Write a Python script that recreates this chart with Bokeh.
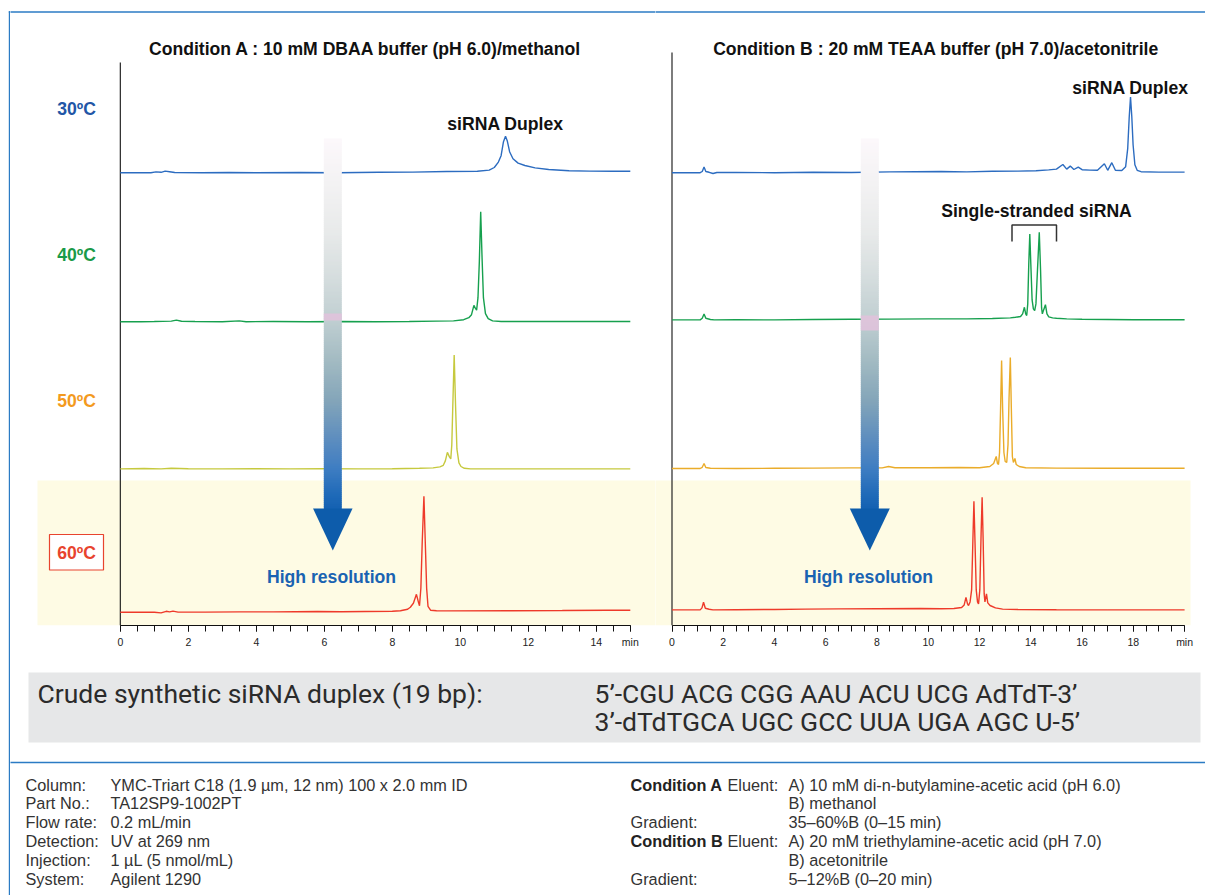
import numpy as np
from bokeh.plotting import figure
from bokeh.models import Range1d, LinearAxis, FixedTicker
from bokeh.layouts import row, column
from bokeh.core.properties import value
from bokeh.embed import file_html
from bokeh.resources import INLINE

# ---------------------------------------------------------------------------
# Chromatograms: retention time (min) and absorbance above baseline (mAU)
# ---------------------------------------------------------------------------
# Condition A (DBAA / methanol)
A30_T = [0.0, 0.9, 1.05, 1.2, 1.32, 1.45, 1.6, 2.4, 3.2, 4.0, 5.3, 6.4, 7.6, 8.6, 9.6, 10.5,
         10.85, 11.0, 11.12, 11.2, 11.27, 11.33, 11.38, 11.45, 11.55, 11.7,
         11.9, 12.2, 12.6, 13.2, 13.8, 14.5, 15.0]
A30_Y = [0.0, 0.0, 0.4, 0.2, 0.8, 0.5, 0.1, 0.0, 0.1, 0.0, 0.1, 0.0, 0.2, 0.3, 0.6, 0.7,
         1.3, 2.6, 5.3, 8.5, 15.5, 18.2, 16.0, 10.5, 7.0, 4.8,
         3.6, 2.4, 1.6, 1.0, 0.8, 0.7, 0.7]

A40_T = [0.0, 0.6, 1.0, 1.5, 1.65, 1.8, 2.2, 3.0, 3.5, 3.7,
         4.5, 5.5, 6.5, 7.5, 8.5, 9.3, 9.8, 10.1, 10.25, 10.33,
         10.40, 10.45, 10.48, 10.52, 10.56, 10.60, 10.64, 10.68, 10.74, 10.82,
         10.95, 11.2, 12.5, 14.0, 15.0]
A40_Y = [0.0, 0.0, 0.1, 0.3, 0.8, 0.2, 0.1, 0.0, 0.4, 0.0,
         0.1, 0.0, 0.1, 0.0, 0.1, 0.3, 0.4, 1.0, 2.0, 3.5,
         8.2, 6.5, 5.8, 12.0, 30.0, 55.0, 32.0, 12.0, 4.0, 1.5,
         0.4, 0.1, 0.1, 0.1, 0.1]

A50_T = [0.0, 0.7, 1.2, 1.5, 2.0, 3.0, 4.0, 5.0, 6.0, 7.0,
         8.0, 8.8, 9.2, 9.4, 9.5, 9.56, 9.62, 9.68, 9.72, 9.75,
         9.78, 9.82, 9.86, 9.90, 9.96, 10.02, 10.12, 10.3, 11.5, 13.0, 15.0]
A50_Y = [0.0, 0.2, 0.0, 0.3, 0.1, 0.0, 0.1, 0.0, 0.1, 0.0,
         0.1, 0.3, 0.5, 1.0, 1.8, 4.0, 8.3, 6.0, 5.0, 12.0,
         32.0, 57.0, 32.0, 10.0, 3.0, 1.2, 0.3, 0.0, 0.0, 0.0, 0.0]

A60_T = [0.0, 1.0, 1.2, 1.35, 1.45, 1.55, 1.7, 2.5, 3.5, 4.5,
         5.8, 6.5, 7.2, 8.0, 8.24, 8.45, 8.53, 8.62, 8.71, 8.77,
         8.80, 8.84, 8.88, 8.93, 8.97, 9.01, 9.05, 9.13, 9.3, 9.6,
         11.5, 13.0, 14.3, 15.0]
A60_Y = [0.0, 0.0, -0.3, 0.5, 0.2, 0.6, 0.1, 0.1, 0.2, 0.2,
         0.4, 0.3, 0.4, 0.5, 0.8, 1.5, 2.5, 4.5, 9.0, 5.0,
         3.3, 12.0, 35.0, 58.0, 35.0, 12.0, 3.0, 1.0, 0.8, 0.7,
         0.8, 0.9, 1.0, 1.0]

# Condition B (TEAA / acetonitrile)
B30_T = [0.0, 1.1, 1.18, 1.25, 1.32, 1.45, 1.6, 1.75, 2.5, 4.0,
         5.5, 7.0, 8.5, 9.5, 10.5, 11.5, 12.5, 13.5, 14.2, 14.7,
         15.0, 15.25, 15.4, 15.54, 15.68, 15.85, 16.0, 16.3, 16.6, 16.87,
         17.0, 17.16, 17.3, 17.55, 17.70, 17.78, 17.84, 17.89, 17.94, 17.99,
         18.06, 18.15, 18.3, 19.0, 20.0]
B30_Y = [0.0, 0.0, 0.6, 2.8, 0.6, 0.2, -0.4, 0.1, 0.1, 0.0,
         0.2, 0.1, 0.4, 0.5, 0.6, 0.4, 0.7, 0.8, 1.0, 1.4,
         1.8, 4.1, 1.8, 3.3, 1.6, 2.8, 1.5, 1.3, 1.2, 4.5,
         1.2, 5.0, 1.2, 1.1, 3.0, 12.0, 28.0, 37.8, 28.0, 14.0,
         4.0, 1.2, 0.5, 0.3, 0.3]

B40_T = [0.0, 1.1, 1.18, 1.25, 1.32, 1.5, 1.65, 2.5, 4.0, 5.5,
         7.0, 8.5, 10.0, 11.5, 12.5, 13.2, 13.4, 13.6, 13.68, 13.75,
         13.80, 13.84, 13.88, 13.92, 13.96, 14.00, 14.05, 14.10, 14.15, 14.20,
         14.26, 14.33, 14.38, 14.42, 14.45, 14.50, 14.57, 14.63, 14.70, 14.85,
         15.0, 15.4, 16.0, 18.0, 20.0]
B40_Y = [0.0, 0.0, 0.8, 3.0, 0.8, 0.2, 0.0, 0.1, 0.0, 0.2,
         0.3, 0.4, 0.5, 0.5, 0.7, 1.0, 1.3, 1.7, 3.0, 6.3,
         3.0, 2.2, 8.0, 28.0, 43.0, 28.0, 10.0, 5.5, 4.6, 8.0,
         25.0, 43.8, 25.0, 6.0, 3.0, 5.0, 7.6, 3.0, 1.5, 1.0,
         0.8, 0.5, 0.3, 0.1, 0.1]

B50_T = [0.0, 1.1, 1.18, 1.25, 1.32, 1.5, 2.5, 4.0, 5.5, 7.0,
         8.2, 8.45, 8.7, 10.0, 11.2, 12.0, 12.4, 12.55, 12.65, 12.70,
         12.74, 12.78, 12.82, 12.86, 12.90, 12.95, 13.00, 13.06, 13.11, 13.15,
         13.20, 13.24, 13.28, 13.32, 13.38, 13.43, 13.55, 13.8, 15.0, 17.0, 20.0]
B50_Y = [0.0, 0.0, 0.6, 2.5, 0.5, 0.1, 0.0, 0.1, 0.2, 0.3,
         0.3, 1.0, 0.4, 0.4, 0.5, 0.4, 1.0, 2.5, 6.0, 2.5,
         2.0, 8.0, 30.0, 54.0, 30.0, 8.0, 3.5, 3.0, 12.0, 35.0,
         55.5, 30.0, 6.0, 3.0, 5.0, 2.0, 1.0, 0.4, 0.2, 0.1, 0.1]

B60_T = [0.0, 1.1, 1.17, 1.23, 1.3, 1.45, 1.6, 2.5, 4.0, 5.2,
         6.5, 8.0, 9.7, 10.5, 11.0, 11.3, 11.4, 11.47, 11.53, 11.57,
         11.63, 11.69, 11.74, 11.78, 11.82, 11.87, 11.92, 11.96, 12.01, 12.06,
         12.10, 12.14, 12.18, 12.21, 12.27, 12.32, 12.41, 12.62, 12.9, 13.5,
         15.0, 17.0, 20.0]
B60_Y = [0.0, 0.0, 1.0, 3.8, 0.8, 0.3, 0.0, 0.1, 0.2, 0.4,
         0.5, 0.6, 0.7, 0.6, 0.7, 1.2, 2.5, 6.3, 3.0, 2.2,
         4.0, 10.0, 35.0, 54.3, 35.0, 10.0, 4.0, 3.0, 10.0, 38.0,
         56.3, 35.0, 8.0, 4.0, 8.0, 3.5, 2.2, 1.0, 0.4, 0.2,
         0.1, 0.0, 0.0]

TEMPS = ["30ºC", "40ºC", "50ºC", "60ºC"]
A_TICKS = [0, 2, 4, 6, 8, 10, 12, 14]
B_TICKS = [0, 2, 4, 6, 8, 10, 12, 14, 16, 18]
A_END = 15
B_END = 20

TITLE_A = "Condition A : 10 mM DBAA buffer (pH 6.0)/methanol"
TITLE_B = "Condition B : 20 mM TEAA buffer (pH 7.0)/acetonitrile"
SEQ_LABEL = "Crude synthetic siRNA duplex (19 bp):"
SEQ_SENSE = "5’-CGU ACG CGG AAU ACU UCG AdTdT-3’"
SEQ_ANTI = "3’-dTdTGCA UGC GCC UUA UGA AGC U-5’"

LEFT_KEYS = ["Column:", "Part No.:", "Flow rate:", "Detection:", "Injection:", "System:"]
LEFT_VALS = ["YMC-Triart C18 (1.9 µm, 12 nm) 100 x 2.0 mm ID", "TA12SP9-1002PT",
             "0.2 mL/min", "UV at 269 nm", "1 µL (5 nmol/mL)", "Agilent 1290"]
RIGHT_BOLD = ["Condition A", "", "", "Condition B", "", ""]
RIGHT_KEYS = ["Eluent:", "", "Gradient:", "Eluent:", "", "Gradient:"]
RIGHT_VALS = ["A) 10 mM di-n-butylamine-acetic acid (pH 6.0)", "B) methanol",
              "35–60%B (0–15 min)", "A) 20 mM triethylamine-acetic acid (pH 7.0)",
              "B) acetonitrile", "5–12%B (0–20 min)"]

# ---------------------------------------------------------------------------
# Styling / layout
# ---------------------------------------------------------------------------
FONT = "Liberation Sans"
BOLD_SIZE = "17.6px"
INFO_SIZE = "16.3px"
SEQ_SIZE = "26.5px"
FRAME_BLUE = "#2b7bc4"
TRACE_COLORS_A = ["#2c6cc0", "#16a04e", "#c6c93e", "#ee3a2a"]
TRACE_COLORS_B = ["#2c6cc0", "#16a04e", "#eaac2a", "#ee3a2a"]
TEMP_COLORS = ["#2256a6", "#1a9a48", "#f39a1e", "#e8442e"]
BAND_COLOR = "#fefbe4"

TOP_H = 625          # height of the chromatogram area (px)
AXIS_H = 30          # room for the time axis
PX_PER_MAU = 2.0     # vertical scale of the traces
OFFSETS_A = [226.4, 151.9, 78.3, 6.6]   # stacking offsets (mAU)
OFFSETS_B = [226.4, 152.8, 78.5, 7.8]

ARROW_STOPS = [(0.00, "#fcf8fb"), (0.12, "#f3f2f3"), (0.25, "#e8eaea"), (0.38, "#d4dcdd"),
               (0.49, "#bfced1"), (0.60, "#a2bac2"), (0.71, "#82a4b9"), (0.81, "#5d8dbf"),
               (0.89, "#3e7dc2"), (0.96, "#1f6ab8"), (1.00, "#1461b1")]


def _rgb(h):
    return tuple(int(h[i:i + 2], 16) for i in (1, 3, 5))


def _mix(f):
    for (f0, c0), (f1, c1) in zip(ARROW_STOPS, ARROW_STOPS[1:]):
        if f0 <= f <= f1:
            a, b = _rgb(c0), _rgb(c1)
            w = (f - f0) / (f1 - f0)
            return "#%02x%02x%02x" % tuple(round(a[k] + (b[k] - a[k]) * w) for k in range(3))
    return ARROW_STOPS[-1][1]


def draw_arrow(p, cx, shaft_w, top, head_top, tip, head_w, pink):
    ys = np.arange(top, head_top, 2.0)
    cols = [_mix((y - top) / (head_top - top)) for y in ys]
    p.quad(left=cx - shaft_w / 2, right=cx + shaft_w / 2, top=ys, bottom=ys + 2.6,
           fill_color=cols, line_color=None, x_range_name="px", y_range_name="py")
    p.quad(left=[cx - shaft_w / 2], right=[cx + shaft_w / 2], top=[pink[0]], bottom=[pink[1]],
           fill_color="#e2c2dc", fill_alpha=0.85, line_color=None,
           x_range_name="px", y_range_name="py")
    p.patch([cx - head_w / 2, cx + head_w / 2, cx], [head_top, head_top, tip],
            fill_color="#0d5cab", line_color=None, x_range_name="px", y_range_name="py")


def txt(p, x, y, s, size, color="#111111", bold=True, align="center", font=FONT):
    p.text(x=[x], y=[y], text=[s], text_font=value(font), text_font_size=size,
           text_font_style="bold" if bold else "normal", text_color=color,
           text_align=align, text_baseline="middle", x_range_name="px", y_range_name="py")


def make_panel(left, width, origin, px_per_min, t_end, ticks):
    x0 = (left - origin) / px_per_min
    x1 = x0 + width / px_per_min
    p = figure(width=width, height=TOP_H + AXIS_H,
               x_range=Range1d(x0, x1), y_range=Range1d(0, TOP_H / PX_PER_MAU),
               x_axis_location=None, y_axis_location=None,
               toolbar_location=None, output_backend="svg",
               min_border_left=0, min_border_right=0, min_border_top=0,
               min_border_bottom=AXIS_H)
    p.extra_x_ranges = {"px": Range1d(left, left + width)}
    p.extra_y_ranges = {"py": Range1d(TOP_H, 0)}
    p.grid.visible = False
    p.outline_line_color = None
    p.background_fill_color = "white"
    p.border_fill_color = "white"

    minor = [m / 2 for m in range(0, 2 * t_end + 1)]
    axis = LinearAxis(ticker=FixedTicker(ticks=ticks + [t_end], minor_ticks=minor),
                      bounds=(0, t_end), major_label_overrides={t_end: "min"})
    axis.axis_line_color = "#111111"
    axis.major_tick_line_color = "#111111"
    axis.minor_tick_line_color = "#111111"
    axis.major_tick_in = 0
    axis.minor_tick_in = 0
    axis.major_tick_out = 6
    axis.minor_tick_out = 6
    axis.major_label_standoff = 4
    axis.major_label_text_font = FONT
    axis.major_label_text_font_size = "10.5px"
    axis.major_label_text_color = "#222222"
    p.add_layout(axis, "below")

    # frame line along the top (runs a little past the edges so the panels join)
    p.segment(x0=[left - 2], y0=[11.5], x1=[left + width + 2], y1=[11.5],
              line_color=FRAME_BLUE, line_width=1.6, x_range_name="px", y_range_name="py")
    return p


# ---------------------------------------------------------------------------
# Panel A
# ---------------------------------------------------------------------------
pa = make_panel(10, 645, 119.8, 34.0, A_END, A_TICKS)
pa.quad(left=[37], right=[657], top=[480], bottom=[625], fill_color=BAND_COLOR,
        line_color=None, x_range_name="px", y_range_name="py")
pa.segment(x0=[0], y0=[62], x1=[0], y1=[625], line_color="#111111", line_width=1.1,
           y_range_name="py")
for t, y, off, c in zip([A30_T, A40_T, A50_T, A60_T], [A30_Y, A40_Y, A50_Y, A60_Y],
                        OFFSETS_A, TRACE_COLORS_A):
    pa.line(np.array(t), off + np.array(y), line_color=c, line_width=1.4)

draw_arrow(pa, 332.3, 18, 138, 508, 550, 39.5, (313, 320))

txt(pa, 365, 48.5, TITLE_A, BOLD_SIZE)
txt(pa, 505, 123, "siRNA Duplex", BOLD_SIZE)
txt(pa, 331, 576, "High resolution", BOLD_SIZE, color="#1a63b2")
for lab, ly, c in zip(TEMPS[:3], [108, 254, 400], TEMP_COLORS[:3]):
    txt(pa, 76, ly, lab, BOLD_SIZE, color=c)
pa.quad(left=[49], right=[103], top=[534], bottom=[569.5], fill_color="white",
        line_color=TEMP_COLORS[3], line_width=1.2, x_range_name="px", y_range_name="py")
txt(pa, 76, 552, TEMPS[3], BOLD_SIZE, color=TEMP_COLORS[3])

# ---------------------------------------------------------------------------
# Panel B
# ---------------------------------------------------------------------------
pb = make_panel(655, 550, 671.5, 25.63, B_END, B_TICKS)
pb.quad(left=[653], right=[1190], top=[480], bottom=[625], fill_color=BAND_COLOR,
        line_color=None, x_range_name="px", y_range_name="py")
pb.segment(x0=[0], y0=[52], x1=[0], y1=[625], line_color="#111111", line_width=1.1,
           y_range_name="py")
for t, y, off, c in zip([B30_T, B40_T, B50_T, B60_T], [B30_Y, B40_Y, B50_Y, B60_Y],
                        OFFSETS_B, TRACE_COLORS_B):
    pb.line(np.array(t), off + np.array(y), line_color=c, line_width=1.4)

draw_arrow(pb, 869.3, 18, 138, 508, 550, 40, (315, 330))

txt(pb, 935.5, 48.5, TITLE_B, BOLD_SIZE)
txt(pb, 1130, 87, "siRNA Duplex", BOLD_SIZE)
txt(pb, 1036, 210, "Single-stranded siRNA", BOLD_SIZE)
pb.line([1011.5, 1011.5, 1056, 1056], [241, 224.5, 224.5, 241], line_color="#333333",
        line_width=1.5, x_range_name="px", y_range_name="py")
txt(pb, 868, 576, "High resolution", BOLD_SIZE, color="#1a63b2")

# ---------------------------------------------------------------------------
# Left frame strip and lower information block
# ---------------------------------------------------------------------------
strip = figure(width=10, height=895, x_range=Range1d(0, 10), y_range=Range1d(895, 0),
               x_axis_location=None, y_axis_location=None, toolbar_location=None,
               output_backend="svg", min_border=0)
strip.grid.visible = False
strip.outline_line_color = None
strip.segment(x0=[9.2], y0=[10.7], x1=[9.2], y1=[895], line_color=FRAME_BLUE, line_width=1.8)
strip.segment(x0=[8.3], y0=[11.5], x1=[11], y1=[11.5], line_color=FRAME_BLUE, line_width=1.6)

info = figure(width=1195, height=240, x_range=Range1d(10, 1205), y_range=Range1d(895, 655),
              x_axis_location=None, y_axis_location=None, toolbar_location=None,
              output_backend="svg", min_border=0)
info.extra_x_ranges = {"px": Range1d(10, 1205)}
info.extra_y_ranges = {"py": Range1d(895, 655)}
info.grid.visible = False
info.outline_line_color = None
info.quad(left=[28], right=[1200], top=[672], bottom=[742], fill_color="#e6e7e8",
          line_color=None)
info.segment(x0=[8], y0=[762], x1=[1207], y1=[762], line_color=FRAME_BLUE, line_width=1.6)

txt(info, 37, 693, SEQ_LABEL, SEQ_SIZE, color="#2b2b2b", bold=False, align="left", font="Roboto")
txt(info, 594, 693, SEQ_SENSE, SEQ_SIZE, color="#2b2b2b", bold=False, align="left", font="Roboto")
txt(info, 594, 721, SEQ_ANTI, SEQ_SIZE, color="#2b2b2b", bold=False, align="left", font="Roboto")

rows_y = [784 + 18.8 * i for i in range(6)]
for yy, k, v in zip(rows_y, LEFT_KEYS, LEFT_VALS):
    txt(info, 25, yy, k, INFO_SIZE, color="#333333", bold=False, align="left")
    txt(info, 110, yy, v, INFO_SIZE, color="#333333", bold=False, align="left")
for yy, b, k, v in zip(rows_y, RIGHT_BOLD, RIGHT_KEYS, RIGHT_VALS):
    if b:
        txt(info, 630, yy, b, INFO_SIZE, color="#222222", bold=True, align="left")
        txt(info, 727, yy, k, INFO_SIZE, color="#333333", bold=False, align="left")
    elif k:
        txt(info, 630, yy, k, INFO_SIZE, color="#333333", bold=False, align="left")
    txt(info, 788, yy, v, INFO_SIZE, color="#333333", bold=False, align="left")

layout = row(strip, column(row(pa, pb), info))
open("out.html", "w").write(file_html(layout, INLINE))
